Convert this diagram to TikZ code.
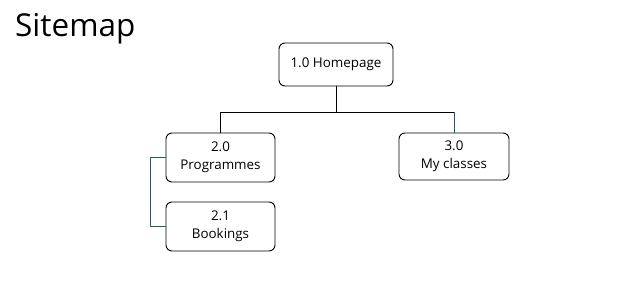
\documentclass[tikz,border=0pt]{standalone}
\usepackage{fontspec}
\setmainfont{Open Sans}
\usepackage{xcolor}
\usetikzlibrary{positioning}
\definecolor{linkteal}{RGB}{28,90,125}

\begin{document}
\begin{tikzpicture}[x=1pt,y=-1pt,
page/.style={draw=black, rounded corners=6pt, line width=0.9pt, fill=white, align=center, font=\fontsize{13.4}{17.5}\selectfont, inner sep=0pt},
link/.style={draw=black, line width=0.9pt},
sublink/.style={draw=linkteal, line width=0.9pt}
]
\useasboundingbox (0,0) rectangle (643,296);
\node[anchor=base west, font=\fontsize{31.5}{36}\selectfont, inner sep=0pt] (title) at (15,37) {Sitemap};
\node[page, minimum width=114pt, minimum height=43pt] (home) at (336,64.5) {1.0 Homepage};
\node[page, minimum width=109pt, minimum height=49pt] (prog) at (220.5,157.5) {2.0\\Programmes};
\node[page, minimum width=110pt, minimum height=47pt] (mycl) at (454,156.5) {3.0\\My classes};
\node[page, minimum width=109pt, minimum height=49pt] (book) at (220.5,226.5) {2.1\\Bookings};

\coordinate (bus) at (336,112.5);
\draw[link] (home.south) -- (bus) -| (prog.north);
\draw[link] (bus) -- (bus -| mycl.north);
\draw[sublink] (bus -| mycl.north) -- (mycl.north);
\draw[sublink] (prog.west) -- ++(-15,0) |- (book.west);
\end{tikzpicture}
\end{document}
